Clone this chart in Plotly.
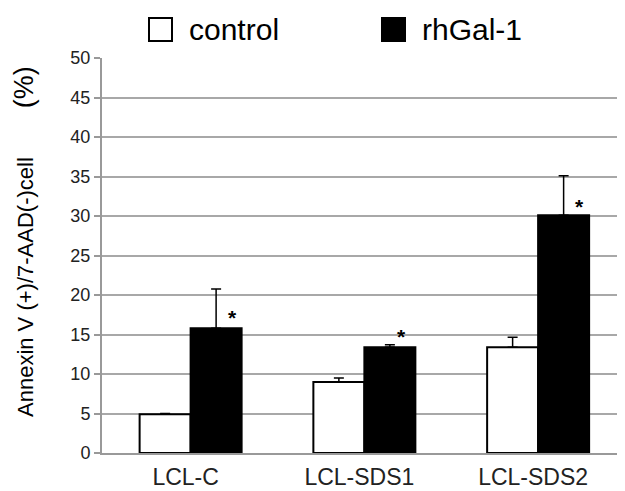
import plotly.graph_objects as go

categories = ["LCL-C", "LCL-SDS1", "LCL-SDS2"]
series_names = ["control", "rhGal-1"]
control_vals = [4.9, 9.0, 13.4]
control_err = [0.1, 0.5, 1.25]
rhgal_vals = [15.8, 13.4, 30.1]
rhgal_err = [4.95, 0.3, 5.0]
star_y = [17.3, 14.9, 31.3]
star_xshift = [42, 37, 41]
y_ticks = [0, 5, 10, 15, 20, 25, 30, 35, 40, 45, 50]

ARIAL = "Liberation Sans, Arial, sans-serif"

FIG_W, FIG_H = 617, 483
PL, PT, PB, PW, PH = 102, 58, 453, 523, 395

def px(x):
    return (x - PL) / PW

def py(y):
    return (PB - y) / PH

fig = go.Figure()
fig.add_trace(go.Bar(
    x=categories, y=control_vals, name=series_names[0],
    marker=dict(color="white", line=dict(color="black", width=2)),
    error_y=dict(type="data", array=control_err, arrayminus=[0]*3, symmetric=False,
                 color="black", thickness=1.5, width=5),
    showlegend=False,
))
fig.add_trace(go.Bar(
    x=categories, y=rhgal_vals, name=series_names[1],
    marker=dict(color="black", line=dict(color="black", width=2)),
    error_y=dict(type="data", array=rhgal_err, arrayminus=[0]*3, symmetric=False,
                 color="black", thickness=1.5, width=5),
    showlegend=False,
))

for c, yv, xs in zip(categories, star_y, star_xshift):
    fig.add_annotation(x=c, y=yv, text="<b>*</b>", showarrow=False, xshift=xs, yshift=-1,
                       font=dict(family=ARIAL, size=21, color="black"))

legend_items = [(series_names[0], "white", 149), (series_names[1], "black", 382)]
for name, fill, x0 in legend_items:
    fig.add_shape(type="rect", xref="paper", yref="paper",
                  x0=px(x0), x1=px(x0 + 23), y0=py(41), y1=py(18),
                  fillcolor=fill, line=dict(color="black", width=2))
    fig.add_annotation(xref="paper", yref="paper", x=px(x0 + 38), y=py(29),
                       xanchor="left", yanchor="middle",
                       text=name, showarrow=False,
                       font=dict(family=ARIAL, size=30, color="black"))

nb = "\u00a0"
fig.add_annotation(xref="paper", yref="paper", x=px(24), y=py(242),
                   xanchor="center", yanchor="middle",
                   text="Annexin V (+)/7-AAD(-)cell" + nb * 8
                        + "<span style='font-size:27px'>(%)</span>",
                   textangle=-90, showarrow=False,
                   font=dict(family=ARIAL, size=22, color="black"))

fig.update_layout(
    autosize=False,
    width=FIG_W, height=FIG_H,
    margin=dict(l=PL - 8, r=FIG_W - (PL - 8) - PW, t=PT - 8, b=FIG_H - (PB - 8),
                autoexpand=False),
    paper_bgcolor="white", plot_bgcolor="white",
    barmode="group", bargap=0.413, bargroupgap=0,
    xaxis=dict(range=[-0.51, 2.5], showgrid=False, showline=True, linecolor="#999999",
               linewidth=2, ticks="", ticklabelshift=-5, ticklabelstandoff=2,
               automargin=False,
               tickfont=dict(family=ARIAL, size=23, color="#222222"),
               zeroline=False),
    yaxis=dict(range=[0, 50], tickvals=y_ticks, showgrid=True, gridcolor="#a8a8a8",
               gridwidth=2, showline=True, linecolor="#999999", linewidth=2,
               ticks="outside", ticklen=6, tickcolor="#999999", tickwidth=2,
               automargin=False,
               tickfont=dict(family=ARIAL, size=18, color="#222222"), zeroline=False),
    font=dict(family=ARIAL),
)

fig.write_html("out.html")
